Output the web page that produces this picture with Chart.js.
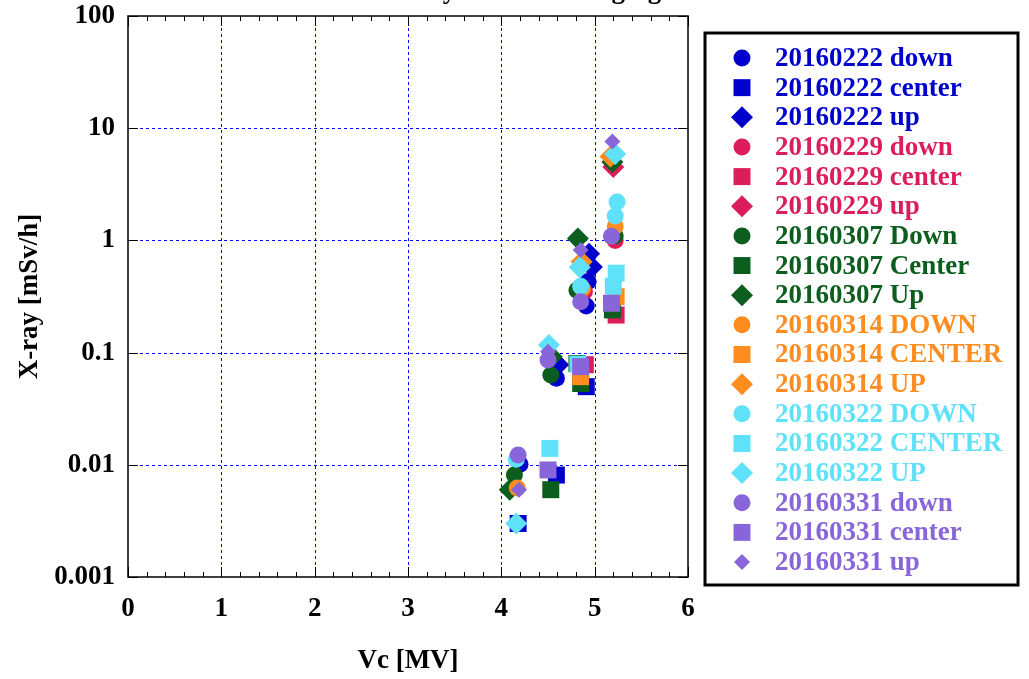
<!DOCTYPE html>
<html>
<head>
<meta charset="utf-8">
<script src="https://cdn.jsdelivr.net/npm/chart.js@4.4.0/dist/chart.umd.min.js"></script>
<style>
  html, body { margin: 0; padding: 0; background: #fff; }
  #wrap { width: 1029px; height: 679px; }
</style>
</head>
<body>
<div id="wrap"><canvas id="grafico" width="1029" height="679"></canvas></div>
<script>
// series
const seriesNames = [
  '20160222 down', '20160222 center', '20160222 up',
  '20160229 down', '20160229 center', '20160229 up',
  '20160307 Down', '20160307 Center', '20160307 Up',
  '20160314 DOWN', '20160314 CENTER', '20160314 UP',
  '20160322 DOWN', '20160322 CENTER', '20160322 UP',
  '20160331 down', '20160331 center', '20160331 up'
];
const vcValues = [
  [4.20, 4.59, 4.93, 4.91],
  [4.18, 4.59, 4.91],
  [4.61, 4.94, 4.97],
  [4.89, 5.22],
  [4.90, 5.23],
  [5.20],
  [4.14, 4.53, 4.81, 5.22],
  [4.53, 4.81, 4.85, 5.19],
  [4.09, 4.54, 4.82, 5.19],
  [4.17, 4.87, 5.22],
  [4.85, 5.23],
  [4.86, 5.17],
  [4.16, 4.85, 5.22, 5.24],
  [4.52, 4.82, 5.20, 5.23],
  [4.16, 4.51, 4.84, 5.22],
  [4.18, 4.50, 4.85, 5.18],
  [4.50, 4.85, 5.18],
  [4.19, 4.50, 4.85, 5.19]
];
const xrayValues = [
  [0.0101, 0.059, 0.43, 0.26],
  [0.003, 0.0081, 0.0497],
  [0.078, 0.76, 0.58],
  [0.35, 1.0],
  [0.078, 0.216],
  [4.5],
  [0.0081, 0.063, 0.36, 1.1],
  [0.006, 0.08, 0.053, 0.24],
  [0.006, 0.092, 1.04, 5.0],
  [0.0062, 0.37, 1.33],
  [0.061, 0.315],
  [0.645, 5.6],
  [0.0112, 0.39, 1.65, 2.2],
  [0.014, 0.079, 0.39, 0.51],
  [0.003, 0.117, 0.575, 5.9],
  [0.0122, 0.086, 0.284, 1.09],
  [0.009, 0.075, 0.275],
  [0.006, 0.102, 0.82, 7.6]
];
const xTicks = [0, 1, 2, 3, 4, 5, 6];
const yTicks = [0.001, 0.01, 0.1, 1, 10, 100];

const palette = ['#0000cd', '#dc1d5b', '#0b5e1d', '#ff8c1f', '#5fe1fa', '#8866d9'];
const fonte = 'bold 27px "Liberation Serif", "Times New Roman", serif';

function estilo(i) {
  const n = seriesNames[i].toLowerCase();
  if (n.endsWith('down')) return { shape: 'circle', r: 8.5 };
  if (n.endsWith('center')) return { shape: 'rect', r: 12 };
  return { shape: 'rectRot', r: i === 17 ? 8 : 11 };
}

const datasets = seriesNames.map((nome, i) => {
  const st = estilo(i);
  const cor = palette[Math.floor(i / 3)];
  return {
    label: nome,
    data: vcValues[i].map((v, k) => ({ x: v, y: xrayValues[i][k] })),
    pointStyle: st.shape,
    pointRadius: st.r,
    pointHoverRadius: st.r,
    pointBorderWidth: 0,
    backgroundColor: cor,
    borderColor: cor,
    showLine: false,
    order: -i
  };
});

function desenhaMarcador(ctx, shape, r, x, y) {
  ctx.beginPath();
  if (shape === 'circle') {
    ctx.arc(x, y, r, 0, Math.PI * 2);
  } else if (shape === 'rect') {
    const s = Math.SQRT1_2 * r;
    ctx.rect(x - s, y - s, 2 * s, 2 * s);
  } else {
    ctx.moveTo(x - r, y); ctx.lineTo(x, y - r); ctx.lineTo(x + r, y); ctx.lineTo(x, y + r);
    ctx.closePath();
  }
  ctx.fill();
}

// grade tracejada, moldura, ticks internos, legenda e titulo
const molduraPlugin = {
  id: 'moldura',
  beforeDatasetsDraw(chart) {
    const { ctx, chartArea: a, scales: { x, y } } = chart;
    ctx.save();
    ctx.strokeStyle = '#0000ff';
    ctx.lineWidth = 1;
    ctx.setLineDash([3, 3]);
    xTicks.slice(1, -1).forEach(v => {
      const px = Math.round(x.getPixelForValue(v)) + 0.5;
      ctx.beginPath(); ctx.moveTo(px, a.top); ctx.lineTo(px, a.bottom); ctx.stroke();
    });
    yTicks.slice(1, -1).forEach(v => {
      const py = Math.round(y.getPixelForValue(v)) + 0.5;
      ctx.beginPath(); ctx.moveTo(a.left, py); ctx.lineTo(a.right, py); ctx.stroke();
    });
    ctx.restore();
  },
  afterDraw(chart) {
    const { ctx, chartArea: a, scales: { x, y } } = chart;
    ctx.save();
    ctx.strokeStyle = '#000';
    ctx.lineWidth = 1;
    ctx.setLineDash([]);
    // ticks do eixo x (maiores e menores)
    for (let v = 0; v <= 6.0001; v += 0.2) {
      const px = Math.round(x.getPixelForValue(v)) + 0.5;
      const major = Math.abs(v - Math.round(v)) < 1e-6;
      const len = major ? 10 : 5;
      ctx.beginPath();
      ctx.moveTo(px, a.bottom); ctx.lineTo(px, a.bottom - len);
      ctx.moveTo(px, a.top); ctx.lineTo(px, a.top + len);
      ctx.stroke();
    }
    yTicks.forEach(v => {
      const py = Math.round(y.getPixelForValue(v)) + 0.5;
      ctx.beginPath();
      ctx.moveTo(a.left, py); ctx.lineTo(a.left + 10, py);
      ctx.moveTo(a.right, py); ctx.lineTo(a.right - 10, py);
      ctx.stroke();
    });
    ctx.lineWidth = 1.5;
    ctx.strokeRect(a.left, a.top, a.right - a.left, a.bottom - a.top);

    // legenda
    ctx.lineWidth = 3;
    ctx.strokeRect(705, 33, 313, 552);
    ctx.font = fonte;
    ctx.textAlign = 'left';
    ctx.textBaseline = 'middle';
    chart.data.datasets.forEach((ds, i) => {
      const yy = 58 + i * 29.65;
      ctx.fillStyle = ds.backgroundColor;
      desenhaMarcador(ctx, ds.pointStyle, ds.pointRadius, 742, yy);
      ctx.fillText(ds.label, 775, yy + 1);
    });

    // titulo (cortado no topo)
    ctx.fillStyle = '#000';
    ctx.textAlign = 'center';
    ctx.textBaseline = 'alphabetic';
    ctx.fillText('X-ray emission in aging', 525, -2);
    ctx.restore();
  }
};

const ctx = document.getElementById('grafico').getContext('2d');
const chart = new Chart(ctx, {
  type: 'scatter',
  data: { datasets },
  options: {
    responsive: false,
    animation: false,
    layout: { padding: { left: 0, top: 16, right: 341, bottom: 0 } },
    plugins: { legend: { display: false }, tooltip: { enabled: false } },
    scales: {
      x: {
        type: 'linear',
        min: 0, max: 6,
        afterFit: s => { s.height = 102; s.paddingLeft = 0; s.paddingRight = 0; },
        afterBuildTicks: s => { s.ticks = xTicks.map(v => ({ value: v })); },
        grid: { display: false, drawTicks: false },
        border: { display: false },
        ticks: { color: '#000', font: { family: '"Liberation Serif", serif', size: 27, weight: 'bold' }, padding: 16, maxRotation: 0 },
        title: { display: true, text: 'Vc [MV]', color: '#000', font: { family: '"Liberation Serif", serif', size: 27, weight: 'bold' }, padding: { top: 0, bottom: 2 } }
      },
      y: {
        type: 'logarithmic',
        min: 0.001, max: 100,
        afterFit: s => { s.width = 128; s.paddingTop = 0; s.paddingBottom = 0; },
        afterBuildTicks: s => { s.ticks = yTicks.map(v => ({ value: v })); },
        grid: { display: false, drawTicks: false },
        border: { display: false },
        ticks: { color: '#000', font: { family: '"Liberation Serif", serif', size: 27, weight: 'bold' }, padding: 13, callback: v => String(v) },
        title: { display: true, text: 'X-ray [mSv/h]', color: '#000', font: { family: '"Liberation Serif", serif', size: 27, weight: 'bold' }, padding: { top: 14, bottom: 0 } }
      }
    }
  },
  plugins: [molduraPlugin]
});
</script>
</body>
</html>
